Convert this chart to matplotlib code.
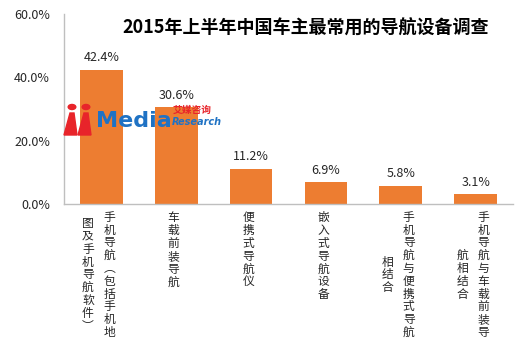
import numpy as np
import matplotlib
matplotlib.use('Agg')
import matplotlib.pyplot as plt
from matplotlib.patches import Circle, Polygon

plt.rcParams['font.family'] = ['Noto Sans CJK SC', 'DejaVu Sans']

title = '2015年上半年中国车主最常用的导航设备调查'
# vertical-form brackets, as the labels are written top to bottom
categories = ['手机导航︵包括手机地图及手机导航软件︶', '车载前装导航', '便携式导航仪',
              '嵌入式导航设备', '手机导航与便携式导航相结合', '手机导航与车载前装导航相结合']
values = [42.4, 30.6, 11.2, 6.9, 5.8, 3.1]
yticks = [0, 20, 40, 60]

bar_color = '#ED7D31'
axis_color = '#BFBFBF'

fig = plt.figure(figsize=(5.22, 3.46), dpi=100)
W, H = 522, 346
ax = fig.add_axes([64 / W, (H - 204) / H, (513 - 64) / W, 190 / H])

x = np.arange(len(categories))
ax.bar(x, values, width=0.57, color=bar_color, zorder=2)
ax.set_xlim(-0.5, len(categories) - 0.5)
ax.set_ylim(0, 60)
ax.set_yticks(yticks)
ax.set_yticklabels(['%.1f%%' % v for v in yticks], fontsize=9, color='#262626')
ax.tick_params(axis='y', length=0, pad=10)
ax.set_xticks([])
for s in ['top', 'right']:
    ax.spines[s].set_visible(False)
for s in ['left', 'bottom']:
    ax.spines[s].set_color(axis_color)
    ax.spines[s].set_linewidth(1)

# value labels
for xi, v in zip(x, values):
    ax.annotate('%.1f%%' % v, xy=(xi, v), xytext=(0, 4), textcoords='offset points',
                ha='center', va='bottom', fontsize=9, color='#262626')

# vertical (top-to-bottom, right-to-left) category labels
ncol = 10
char_h = 12.5 * 0.72  # points per char
col_gap = 21.5 * 0.72
for xi, lab in zip(x, categories):
    cols = [lab[i:i + ncol] for i in range(0, len(lab), ncol)]
    maxlen = max(len(c) for c in cols)
    mid = -6 - maxlen * char_h / 2
    n = len(cols)
    for j, c in enumerate(cols):
        dx = -2 + ((n - 1) / 2 - j) * col_gap
        ax.annotate('\n'.join(c), xy=(xi, 0), xycoords=('data', 'axes fraction'),
                    xytext=(dx, mid), textcoords='offset points', ha='center', va='center',
                    fontsize=8.5, linespacing=0.98, color='#262626', annotation_clip=False)

fig.text(306 / W, 1 - 28 / H, title, ha='center', va='center', fontsize=13,
         fontweight='bold', color='black')

# iMedia watermark
red = '#E8242A'
blue = '#1F72C4'
for cx in [72, 86]:
    fig.patches.append(Circle((cx / W, 1 - 107 / H), 3.8 / W, transform=fig.transFigure,
                              color=red, zorder=5))
    fig.patches.append(Polygon([((cx - 2) / W, 1 - 113 / H), ((cx + 2) / W, 1 - 113 / H),
                                ((cx + 5) / W, 1 - 135 / H), ((cx - 8) / W, 1 - 135 / H)],
                               closed=True, transform=fig.transFigure, color=red, zorder=5))
fig.text(96 / W, 1 - 121 / H, 'Media', ha='left', va='center', fontsize=16,
         fontweight='bold', color=blue, family='DejaVu Sans', zorder=6)
fig.text(173 / W, 1 - 110 / H, '艾媒咨询', ha='left', va='center', fontsize=7,
         fontweight='bold', color=red, zorder=6)
fig.text(172 / W, 1 - 122 / H, 'Research', ha='left', va='center', fontsize=7,
         style='italic', fontweight='bold', color=blue, family='DejaVu Sans', zorder=6)

fig.savefig('out.png', dpi=100)
